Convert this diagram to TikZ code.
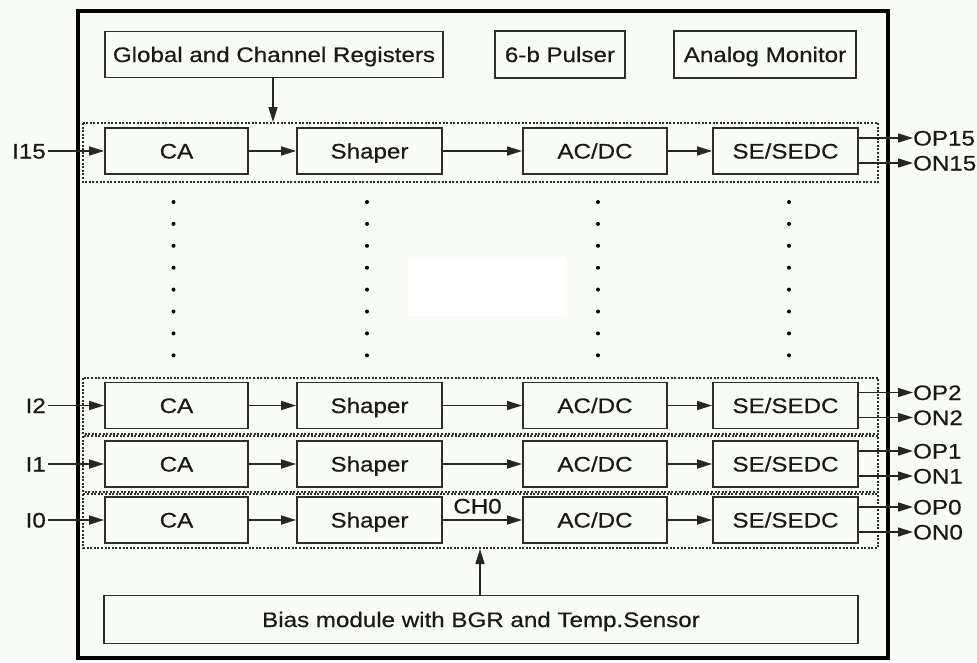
\documentclass[tikz,border=0pt]{standalone}
\usepackage{fontspec}
\setmainfont[FakeStretch=1.15,FakeBold=0.5]{Liberation Sans}
\usetikzlibrary{arrows.meta}
\definecolor{bg}{RGB}{249,251,246}
\definecolor{ln}{RGB}{45,45,45}
\begin{document}
\begin{tikzpicture}[x=1pt,y=-1pt,
  txt/.style={font=\fontsize{21}{25}\selectfont, text=black!90},
  blk/.style={txt, draw=ln, line width=1.9pt, fill=bg, minimum height=46pt, inner sep=0pt, text height=15pt, text depth=0pt},
  lbl/.style={txt, inner sep=0pt, text height=15pt, text depth=0pt},
  arr/.style={draw=black!85, line width=1.5pt, -{Triangle[length=15pt,width=9pt]}},
  rowbox/.style={draw=ln, line width=1.7pt, dash pattern=on 2pt off 1.6pt},
  outer/.style={draw=black, line width=4pt}
]
\fill[bg] (0,0) rectangle (977,662);
\useasboundingbox (0,0) rectangle (977,662);
\fill[white] (408,257) rectangle (567,316);

% outer chip border
\draw[outer] (77.5,10.5) rectangle (888,658);

% top blocks
\node[blk, minimum width=338pt, minimum height=46pt] (reg) at (274,54.5) {Global and Channel Registers};
\node[blk, minimum width=130pt, minimum height=47pt] (pul) at (560,54.5) {6-b Pulser};
\node[blk, minimum width=182pt, minimum height=47pt] (mon) at (765,54.5) {Analog Monitor};

% channel row boxes (dotted)
\draw[rowbox] (83,123) rectangle (878,182);
\draw[rowbox] (83,378) rectangle (878,434);
\draw[rowbox] (83,436) rectangle (878,492);
\draw[rowbox] (83,494) rectangle (878,548);
\coordinate (rowtop) at (273,122);
\coordinate (rowbot) at (480,549);

% channels
\foreach \r/\y in {15/151, 2/405.5, 1/464, 0/520}{
  \node[blk, minimum width=143pt] (ca\r) at (176.5,\y) {CA};
  \node[blk, minimum width=145pt] (sh\r) at (369.5,\y) {Shaper};
  \node[blk, minimum width=144pt] (ad\r) at (595,\y) {AC/DC};
  \node[blk, minimum width=145pt] (se\r) at (785.5,\y) {SE/SEDC};
  \node[lbl, anchor=east] (in\r) at (46,\y) {I\r};
  \node[lbl, anchor=west] (op\r) at (913,\y-13) {OP\r};
  \node[lbl, anchor=west] (on\r) at (913,\y+12) {ON\r};
  \draw[arr] ([xshift=2pt]in\r.east) -- (ca\r.west);
  \draw[arr] (ca\r) -- (sh\r);
  \draw[arr] (sh\r) -- (ad\r);
  \draw[arr] (ad\r) -- (se\r);
  \draw[arr] ([yshift=13pt]se\r.east) -- (op\r.west);
  \draw[arr] ([yshift=-12pt]se\r.east) -- (on\r.west);
}

\node[lbl] (ch0) at (477.5,506) {CH0};

% dots between rows
\foreach \x in {173.5,367,598,789}{
  \foreach \k in {0,...,7}{
    \fill[black] (\x,{202+\k*21.9}) circle (2pt);
  }
}

% bias module
\node[blk, minimum width=754pt, minimum height=48pt] (bias) at (481,619.5) {Bias module with BGR and Temp.Sensor};

\draw[arr] (reg.south -| rowtop) -- (rowtop);
\draw[arr] (bias.north -| rowbot) -- (rowbot);
\end{tikzpicture}
\end{document}
